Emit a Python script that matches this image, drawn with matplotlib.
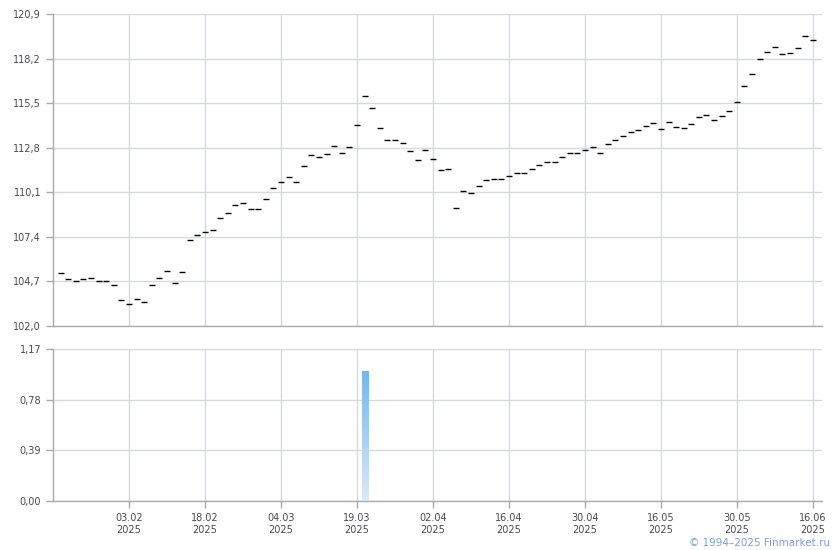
import numpy as np
import matplotlib
matplotlib.use('Agg')
import matplotlib.pyplot as plt
from matplotlib.colors import LinearSegmentedColormap


# close prices, one per trading day
prices = [105.19, 104.85, 104.71, 104.85, 104.91, 104.71, 104.71, 104.46, 103.55, 103.31,
          103.62, 103.43, 104.46, 104.91, 105.31, 104.59, 105.25, 107.19, 107.49, 107.68,
          107.82, 108.52, 108.83, 109.31, 109.43, 109.07, 109.07, 109.67, 110.34, 110.70,
          111.01, 110.70, 111.67, 112.34, 112.21, 112.40, 112.88, 112.46, 112.82, 114.16,
          115.91, 115.19, 113.98, 113.25, 113.25, 113.07, 112.58, 112.04, 112.64, 112.10,
          111.43, 111.49, 109.13, 110.16, 110.04, 110.46, 110.83, 110.89, 110.89, 111.07,
          111.27, 111.27, 111.49, 111.75, 111.92, 111.92, 112.22, 112.46, 112.46, 112.64,
          112.82, 112.46, 113.01, 113.25, 113.49, 113.73, 113.85, 114.10, 114.28, 113.92,
          114.34, 114.04, 113.98, 114.22, 114.64, 114.76, 114.46, 114.70, 115.00, 115.55,
          116.52, 117.25, 118.16, 118.58, 118.88, 118.46, 118.52, 118.82, 119.55, 119.31]

volume = np.zeros(len(prices))
volume[40] = 1.00

date_pos = [9, 19, 29, 39, 49, 59, 69, 79, 89, 99]
date_labels = ['03.02\n2025', '18.02\n2025', '04.03\n2025', '19.03\n2025', '02.04\n2025',
               '16.04\n2025', '30.04\n2025', '16.05\n2025', '30.05\n2025', '16.06\n2025']

price_ticks = [102.0, 104.7, 107.4, 110.1, 112.8, 115.5, 118.2, 120.9]
vol_ticks = [0.0, 0.39, 0.78, 1.17]

grid_col = '#d6dadd'
spine_col = '#a9a9b8'
text_col = '#4a4a58'


def styleAxis(ax, yticks, fmt):
    for s in ['top', 'right']:
        ax.spines[s].set_visible(False)
    for s in ['left', 'bottom']:
        ax.spines[s].set_color(spine_col)
        ax.spines[s].set_linewidth(1.0)
    ax.set_xlim(-1.0, 100.2)
    ax.set_ylim(yticks[0], yticks[-1])
    ax.set_yticks(yticks)
    ax.set_yticklabels([fmt.format(t).replace('.', ',') for t in yticks])
    ax.set_xticks(date_pos)
    ax.grid(True, color=grid_col, linewidth=1.0)
    ax.set_axisbelow(True)
    ax.tick_params(axis='both', colors=spine_col, labelcolor=text_col, labelsize=7, length=5, width=1)


fig = plt.figure(figsize=(8.4, 5.5), dpi=100)
ax1 = fig.add_axes([53/840, 1-326/550, 769/840, 312/550])
ax2 = fig.add_axes([53/840, 1-501/550, 769/840, 152/550])

x = np.arange(len(prices))
ax1.plot(x, prices, linestyle='none', marker='_', markersize=3.8, markeredgewidth=1.0, color='black')
styleAxis(ax1, price_ticks, '{:.1f}')
ax1.tick_params(axis='x', length=0, labelbottom=False)

styleAxis(ax2, vol_ticks, '{:.2f}')
ax2.set_xticklabels(date_labels, linespacing=1.25)

# volume bars with vertical gradient
cmap = LinearSegmentedColormap.from_list('vol', ['#dde9f6', '#74b6ec'])
grad = np.linspace(0, 1, 256).reshape(-1, 1)
bars = ax2.bar(x, volume, width=0.8, color='none', edgecolor='none')
for b in bars:
    h = b.get_height()
    if h <= 0:
        continue
    x0 = b.get_x()
    im = ax2.imshow(grad, cmap=cmap, origin='lower', aspect='auto',
                    extent=[x0, x0 + b.get_width(), 0, h], zorder=3)
    im.set_clip_path(b)
ax2.set_xlim(-1.0, 100.2)
ax2.set_ylim(0, 1.17)

fig.text(830/840, 1-543/550, '\u00a9 1994\u20132025 Finmarket.ru', ha='right', va='center',
         fontsize=7.5, color='#7d9fd8')

plt.savefig('out.png', dpi=100)
